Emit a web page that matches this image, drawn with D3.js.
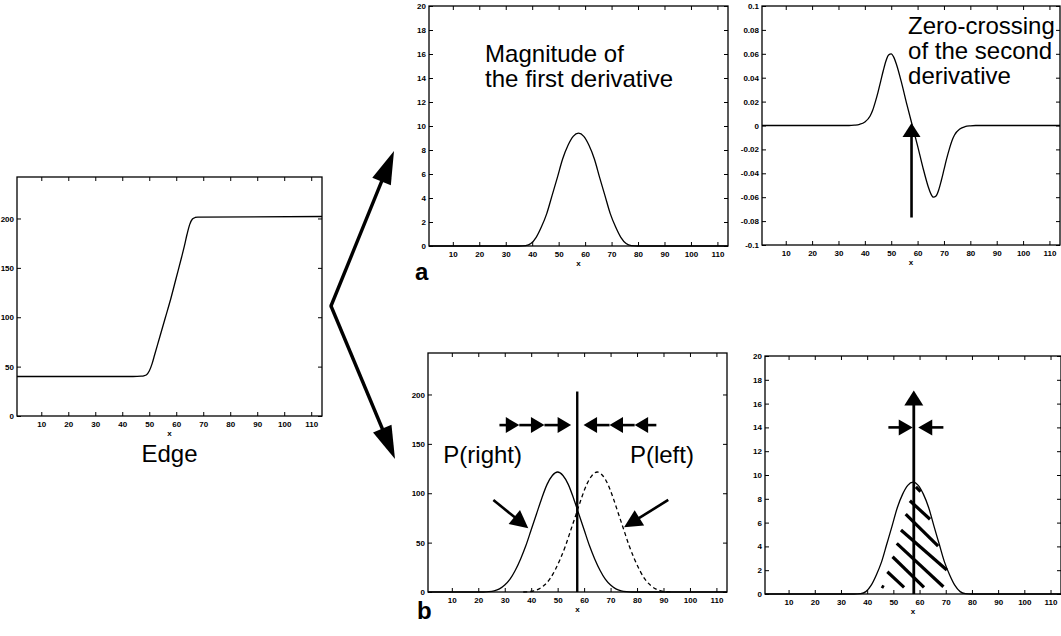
<!DOCTYPE html>
<html>
<head>
<meta charset="utf-8">
<script src="https://cdn.jsdelivr.net/npm/d3@7"></script>
<style>
  body { margin: 0; background: #fff; }
  svg { display: block; font-family: "Liberation Sans", Arial, Helvetica, sans-serif; }
  .tick text { font-size: 8px; font-weight: bold; fill: #000; }
  .tick line { stroke: #000; stroke-width: 1; }
  .curve { fill: none; stroke: #000; stroke-width: 1.3; }
</style>
</head>
<body>
<svg id="fig" width="1061" height="636"></svg>
<script>
// ---- data ----
var xTicks = [10, 20, 30, 40, 50, 60, 70, 80, 90, 100, 110];
var yTicksEdge = [0, 50, 100, 150, 200];
var yTicksDeriv = [0, 2, 4, 6, 8, 10, 12, 14, 16, 18, 20];
var yTicksSecond = [-0.1, -0.08, -0.06, -0.04, -0.02, 0, 0.02, 0.04, 0.06, 0.08, 0.1];

// the edge profile
var edgeX = [1, 44, 47, 48, 49, 50, 51, 52, 54, 56, 58, 60, 62, 63, 64, 65, 66, 67, 68, 114];
var edgeY = [40, 40, 40.3, 40.7, 41.8, 45.5, 52.5, 62, 81, 100, 119, 140, 161, 172, 184, 194, 199.5, 201, 201.4, 202];

// magnitude of the first derivative
var derivX = [1, 35, 37.5, 39.5, 41.5, 43.5, 45.5, 47.5, 49.5, 51.5, 53.5, 55.5, 57.5, 59.5, 61.5, 63.5, 65.5, 67.5, 69.5, 71.5, 73.5, 75.5, 77.5, 80, 114];
var derivY = [0, 0, 0.03, 0.2, 0.72, 1.6, 2.7, 4.2, 5.7, 7.25, 8.37, 9.13, 9.4, 9.13, 8.37, 7.25, 5.7, 4.2, 2.7, 1.6, 0.72, 0.2, 0.03, 0, 0];

// second derivative
var secondX = [1, 34, 36, 38, 40, 42, 43, 44, 45, 46, 47, 48, 49, 50, 51, 52, 54, 56, 58, 60, 62, 64, 65, 66, 67, 68, 69, 70, 71, 72, 73, 74, 76, 78, 80, 82, 114];
var secondY = [0, 0, 0.0003, 0.001, 0.003, 0.008, 0.013, 0.02, 0.028, 0.037, 0.046, 0.054, 0.059, 0.06, 0.057, 0.051, 0.035, 0.017, 0, -0.017, -0.035, -0.051, -0.057, -0.06, -0.059, -0.054, -0.046, -0.037, -0.028, -0.02, -0.013, -0.008, -0.003, -0.001, -0.0003, 0, 0];

// P(right) solid, P(left) dashed
var pRightX = [1, 22, 24, 26, 28, 30, 32, 34, 36, 38, 40, 42, 44, 46, 48, 50, 52, 54, 56, 58, 60, 62, 64, 66, 68, 70, 72, 74, 76, 78, 114];
var pRightY = [0, 0, 0.3, 1.2, 3.2, 7, 13, 22, 33.5, 47, 63, 79, 95, 109, 118, 121.5, 118, 109, 95, 79, 63, 47, 33.5, 22, 13, 7, 3.2, 1.2, 0.3, 0, 0];
var pLeftX = [37, 39, 41, 43, 45, 47, 49, 51, 53, 55, 57, 59, 61, 63, 65, 67, 69, 71, 73, 75, 77, 79, 81, 83, 85, 87, 89, 91, 93];
var pLeftY = [0, 0.3, 1.2, 3.2, 7, 13, 22, 33.5, 47, 63, 79, 95, 109, 118, 121.5, 118, 109, 95, 79, 63, 47, 33.5, 22, 13, 7, 3.2, 1.2, 0.3, 0];

// annotation marks, in data units of their panel
var edgeLocation = 57.4;
var chainTails = [28, 35.5, 45, 87.3, 79.1, 69.6];
var chainTips = [35.5, 45, 55.1, 79.1, 69.6, 59.8];
var chainLevel = 169;
var pointerFrom = [[25.7, 93.2], [91.8, 93.2]];
var pointerTo = [[38.9, 64.5], [75.1, 65.5]];
var hatchX1 = [45.5, 47.7, 49.7, 51.3, 52.9, 54.7, 56.3, 58.6];
var hatchY1 = [0.67, 1.87, 3.13, 4.26, 5.38, 6.72, 7.84, 9.0];
var hatchX2 = [46.4, 54.1, 61.7, 69.1, 70.4, 67.1, 64.0, 60.4];
var hatchY2 = [0.56, 0.56, 0.56, 0.61, 2.02, 4.03, 6.28, 8.6];

var svg = d3.select("#fig");
svg.append("rect").attr("width", 1061).attr("height", 636).attr("fill", "#fff");

function panel(box, yDomain, yTicks, yFmt) {
  var g = svg.append("g").attr("transform", "translate(" + box.x + "," + box.y + ")");
  var x = d3.scaleLinear().domain([1, 114]).range([0, box.w]);
  var y = d3.scaleLinear().domain(yDomain).range([box.h, 0]);

  g.append("g").attr("transform", "translate(0," + box.h + ")")
    .call(d3.axisBottom(x).tickValues(xTicks).tickSize(-4).tickPadding(5).tickFormat(function(d) { return d; }));
  g.append("g")
    .call(d3.axisTop(x).tickValues(xTicks).tickSize(-4).tickFormat(""));
  g.append("g")
    .call(d3.axisLeft(y).tickValues(yTicks).tickSize(-4).tickPadding(3).tickFormat(yFmt));
  g.append("g").attr("transform", "translate(" + box.w + ",0)")
    .call(d3.axisRight(y).tickValues(yTicks).tickSize(-4).tickFormat(""));
  g.selectAll(".domain").remove();

  g.append("rect")
    .attr("width", box.w).attr("height", box.h)
    .attr("fill", "none").attr("stroke", "#000").attr("stroke-width", 1.3);

  g.append("text")
    .attr("x", box.w / 2).attr("y", box.h + 20)
    .attr("text-anchor", "middle")
    .attr("font-size", 8).attr("font-weight", "bold")
    .text("x");

  return { g: g, x: x, y: y, box: box };
}

function curve(p, xs, ys) {
  var line = d3.line()
    .x(function(d) { return p.x(d[0]); })
    .y(function(d) { return p.y(d[1]); })
    .curve(d3.curveMonotoneX);
  return p.g.append("path").attr("class", "curve").attr("d", line(d3.zip(xs, ys)));
}

// line with a solid triangular head at (x2, y2), pixel coordinates
function arrow(g, x1, y1, x2, y2, head, half, width) {
  var dx = x2 - x1, dy = y2 - y1, L = Math.sqrt(dx * dx + dy * dy);
  var ux = dx / L, uy = dy / L;
  var bx = x2 - ux * head, by = y2 - uy * head;
  g.append("line")
    .attr("x1", x1).attr("y1", y1).attr("x2", bx + ux).attr("y2", by + uy)
    .attr("stroke", "#000").attr("stroke-width", width);
  g.append("path")
    .attr("d", "M" + x2 + "," + y2 +
               "L" + (bx - uy * half) + "," + (by + ux * half) +
               "L" + (bx + uy * half) + "," + (by - ux * half) + "Z")
    .attr("fill", "#000");
}

function label(g, x, y, lines, size, weight, anchor) {
  var t = g.append("text")
    .attr("x", x).attr("y", y)
    .attr("font-size", size).attr("font-weight", weight || "normal")
    .attr("text-anchor", anchor || "start");
  lines.forEach(function(s, i) {
    t.append("tspan").attr("x", x).attr("dy", i ? "1.04em" : 0).text(s);
  });
}

var plain = function(d) { return d; };

// ---- panels ----
var edge = panel({ x: 17, y: 177, w: 305, h: 239 }, [0, 242], yTicksEdge, plain);
var first = panel({ x: 429, y: 6, w: 299, h: 240 }, [0, 20], yTicksDeriv, plain);
var second = panel({ x: 762, y: 6, w: 298, h: 239 }, [-0.1, 0.1], yTicksSecond, plain);
var prob = panel({ x: 428, y: 353, w: 299, h: 239 }, [0, 242], yTicksEdge, plain);
var result = panel({ x: 765, y: 356, w: 296, h: 238 }, [0, 20], yTicksDeriv, plain);

// edge
curve(edge, edgeX, edgeY);
label(edge.g, edge.box.w / 2, edge.box.h + 46, ["Edge"], 24, "normal", "middle");

// (a) first derivative
curve(first, derivX, derivY);
label(first.g, first.x(22.2), first.y(15.35), ["Magnitude of", "the first derivative"], 24);
label(first.g, -14, first.box.h + 34, ["a"], 24, "bold");

// (a) second derivative
curve(second, secondX, secondY);
label(second.g, second.x(56.4), second.y(0.0762), ["Zero-crossing", "of the second", "derivative"], 24);
arrow(second.g, second.x(57.7), second.y(-0.077), second.x(57.7), second.y(0.002), 14, 9, 2.6);

// (b) P(right) / P(left)
curve(prob, pRightX, pRightY);
curve(prob, pLeftX, pLeftY).attr("stroke-dasharray", "4,3");
prob.g.append("line")
  .attr("x1", prob.x(edgeLocation)).attr("x2", prob.x(edgeLocation))
  .attr("y1", prob.y(0)).attr("y2", prob.y(203))
  .attr("stroke", "#000").attr("stroke-width", 2.4);
chainTails.forEach(function(t, i) {
  arrow(prob.g, prob.x(t), prob.y(chainLevel), prob.x(chainTips[i]), prob.y(chainLevel), 13.5, 8, 2.6);
});
pointerFrom.forEach(function(f, i) {
  arrow(prob.g, prob.x(f[0]), prob.y(f[1]), prob.x(pointerTo[i][0]), prob.y(pointerTo[i][1]), 18, 9, 2.6);
});
label(prob.g, prob.x(6.8), prob.y(130.3), ["P(right)"], 24);
label(prob.g, prob.x(77.3), prob.y(130.3), ["P(left)"], 24);
label(prob.g, -11, prob.box.h + 27, ["b"], 24, "bold");

// (b) resulting edge estimate
curve(result, derivX, derivY);
hatchX1.forEach(function(x1, i) {
  result.g.append("line")
    .attr("x1", result.x(x1)).attr("y1", result.y(hatchY1[i]))
    .attr("x2", result.x(hatchX2[i])).attr("y2", result.y(hatchY2[i]))
    .attr("stroke", "#000").attr("stroke-width", 3.2);
});
arrow(result.g, result.x(57.8), result.y(0), result.x(57.8), result.y(17.1), 15, 9.5, 2.8);
arrow(result.g, result.x(48.1), result.y(14), result.x(57.4), result.y(14), 14, 8, 2.6);
arrow(result.g, result.x(69.1), result.y(14), result.x(59.5), result.y(14), 14, 8, 2.6);

// ---- fork arrows from the edge to (a) and (b) ----
var forkX = edge.box.x + edge.box.w + 9, forkY = 306;
arrow(svg, forkX, forkY, first.box.x - 35, first.box.y + 145, 33, 10, 3.4);
arrow(svg, forkX, forkY, prob.box.x - 33, prob.box.y + 106, 33, 10, 3.4);
svg.append("circle").attr("cx", forkX).attr("cy", forkY).attr("r", 1.7).attr("fill", "#000");
</script>
</body>
</html>
